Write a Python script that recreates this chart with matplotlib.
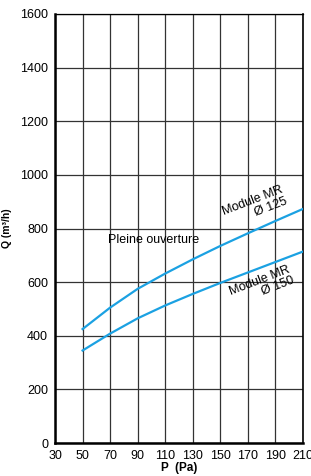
import matplotlib
matplotlib.use("Agg")
import matplotlib.pyplot as plt
import numpy as np

plt.rcParams['font.family'] = ['Liberation Sans', 'DejaVu Sans']

pressure = [50, 70, 90, 110, 130, 150, 170, 190, 210]
q_mr125 = [425, 505, 575, 632, 685, 735, 782, 828, 873]
q_mr150 = [345, 408, 465, 513, 556, 597, 636, 675, 714]
x_ticks = [30, 50, 70, 90, 110, 130, 150, 170, 190, 210]
y_ticks = [0, 200, 400, 600, 800, 1000, 1200, 1400, 1600]

fig = plt.figure(figsize=(3.11, 4.76), dpi=100)
ax = fig.add_axes([0.177, 0.0693, 0.797, 0.9013])

blue = '#1ba1e2'
ax.plot(pressure, q_mr125, color=blue, lw=1.6, zorder=3)
ax.plot(pressure, q_mr150, color=blue, lw=1.6, zorder=3)

ax.set_xlim(30, 210)
ax.set_ylim(0, 1600)
ax.set_xticks(x_ticks)
ax.set_yticks(y_ticks)
ax.tick_params(length=0, labelsize=9)
ax.tick_params(axis='x', pad=5)
ax.tick_params(axis='y', pad=5)
ax.grid(True, color='#333333', lw=0.9)
ax.set_axisbelow(True)
for s in ax.spines.values():
    s.set_color('black')
ax.spines['left'].set_linewidth(1.8)
ax.spines['bottom'].set_linewidth(1.8)
ax.spines['top'].set_linewidth(0.9)
ax.spines['right'].set_linewidth(1.2)

ax.set_xlabel('P  (Pa)', fontsize=8.5, fontweight='bold', labelpad=0)
ax.set_ylabel('Q (m³/h)', fontsize=7.5, fontweight='bold', labelpad=6)

ax.text(68.5, 757, 'Pleine ouverture', fontsize=9, va='center', ha='left')
ax.text(175, 882, 'Module MR\nØ 125', fontsize=9, rotation=21, ha='center', va='center',
        multialignment='right', linespacing=0.95, rotation_mode='anchor')
ax.text(180, 585, 'Module MR\nØ 150', fontsize=9, rotation=21, ha='center', va='center',
        multialignment='right', linespacing=0.95, rotation_mode='anchor')

fig.savefig('out.png', dpi=100)
